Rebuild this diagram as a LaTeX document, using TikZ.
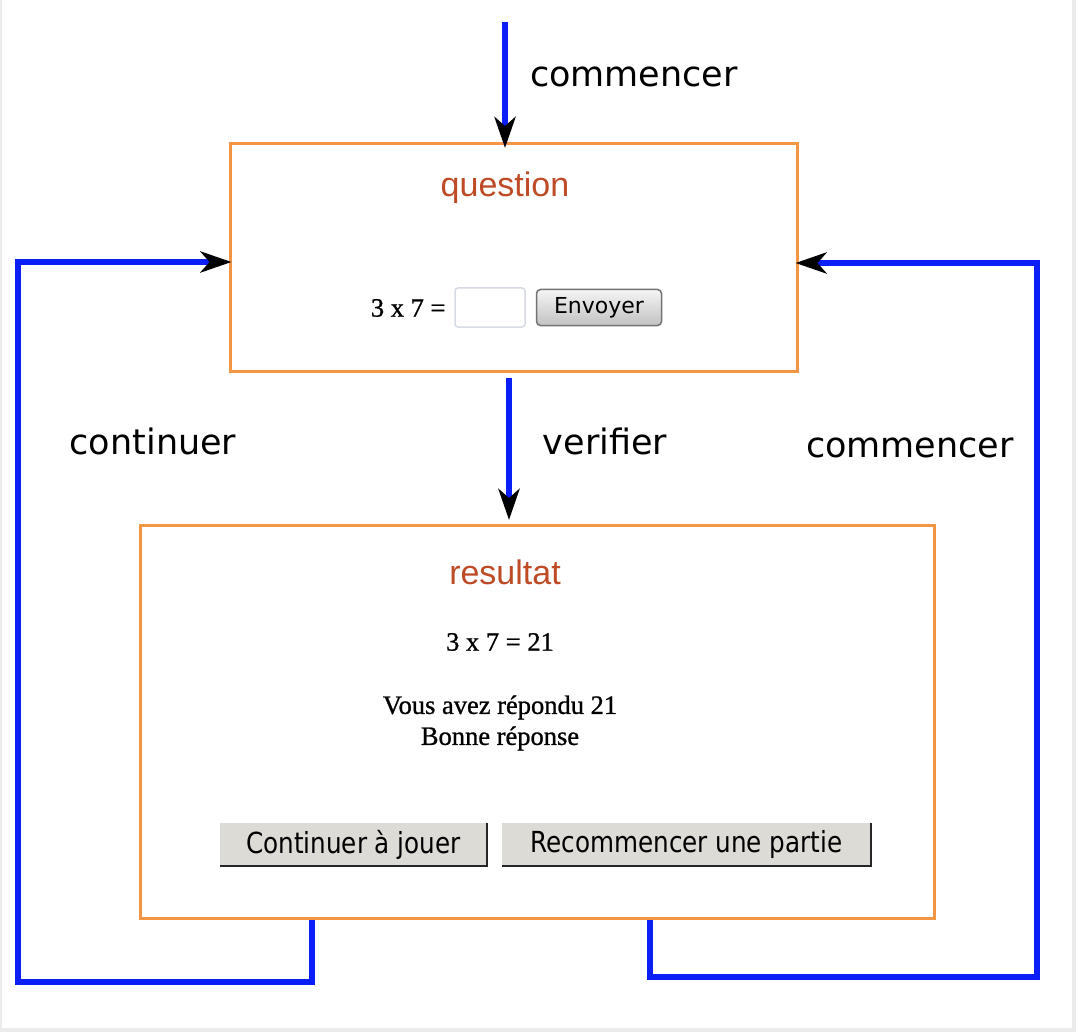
\documentclass[tikz,border=0pt]{standalone}
\usepackage{fontspec}
\setmainfont{Liberation Serif}
\newfontfamily\pagefont[FakeBold=0.9]{Liberation Serif}
\newfontfamily\labelfont{DejaVu Sans}
\newfontfamily\titlefont{Liberation Sans}
\newfontfamily\buttonfont[FakeStretch=0.85]{DejaVu Sans}
\usetikzlibrary{shapes, arrows, arrows.meta, positioning}

\definecolor{boxorange}{HTML}{F29646}
\definecolor{titlered}{HTML}{BE4B26}
\definecolor{flowblue}{HTML}{0A1EF8}
\definecolor{buttongray}{HTML}{DDDBD6}
\definecolor{fieldline}{HTML}{D6DAE2}
\definecolor{pageedge}{HTML}{EBEBEB}

\begin{document}
\begin{tikzpicture}[x=1pt, y=-1pt]
% Node styles
\tikzstyle{frame} = [rectangle, draw=boxorange, line width=3pt, fill=white]
\tikzstyle{title} = [text=titlered, font=\titlefont\fontsize{34}{39}\selectfont]
\tikzstyle{label} = [text=black, font=\labelfont\fontsize{35}{41}\selectfont]
\tikzstyle{body} = [text=black, font=\pagefont\fontsize{26.5}{31}\selectfont, align=center]
\tikzstyle{field} = [rectangle, rounded corners=3pt, draw=fieldline, line width=1.5pt, fill=white, minimum width=70, minimum height=39]
\tikzstyle{send} = [rectangle, rounded corners=4pt, draw=black!55, line width=1.5pt, top color=black!4, bottom color=black!24, minimum width=125, minimum height=36, font=\labelfont\fontsize{22}{26}\selectfont]
\tikzstyle{choice} = [rectangle, fill=buttongray, minimum height=43, inner sep=0pt, font=\buttonfont\fontsize{29}{34}\selectfont]
\tikzstyle{shadow} = [line width=2.5pt, black!85]
\tikzstyle{flow} = [line width=6pt, draw=flowblue, -{Stealth[length=31pt, width=21pt, inset=9pt, black]}]

\useasboundingbox (0,0) rectangle (1076,1032);
\fill[pageedge] (0,0) rectangle (2,1032);
\fill[pageedge] (1072,0) rectangle (1076,1032);
\fill[pageedge] (0,1028) rectangle (1076,1032);

% Nodes
\node [frame, minimum width=567, minimum height=227] (question) at (513.5,257.5) {};
\node [frame, minimum width=794, minimum height=393] (resultat) at (537,721.5) {};

\node [title] (qtitle) at (505,188) {question};
\node [body, anchor=east] (calc) at (449,308) {3 x 7 =};
\node [field] (answer) at (490,307.5) {};
\node [send, right=10 of answer] (envoyer) {Envoyer};

\node [title] (rtitle) at (505,572) {resultat};
\node [body] (product) at (500,642) {3 x 7 = 21};
\node [body] (reply) at (500,723) {Vous avez répondu 21\\Bonne réponse};
\node [choice, minimum width=267] (cont) at (353.5,844.5) {Continuer à jouer};
\node [choice, minimum width=369] (recom) at (686.5,844.5) {Recommencer une partie};
\draw [shadow] (cont.north east) -- (cont.south east) -- (cont.south west);
\draw [shadow] (recom.north east) -- (recom.south east) -- (recom.south west);

\node [label] (lstart) at (634,77) {commencer};
\node [label] (lcheck) at (605,441) {verifier};
\node [label] (lcont) at (153,441) {continuer};
\node [label] (lrestart) at (910,448) {commencer};

\coordinate (start) at (505,22);
\coordinate (lfoot) at (312,982);
\coordinate (lcorner) at (18,982);
\coordinate (rfoot) at (650,977);
\coordinate (rcorner) at (1037,977);

% Arrows
\draw [flow] (start) -- ([yshift=-5.5pt]start |- question.north);
\draw [flow] ([xshift=4pt, yshift=-5pt]question.south -| start) -- ([xshift=4pt, yshift=3.5pt]resultat.north -| start);
\draw [flow] (resultat.south -| lfoot) -- (lfoot) -- (lcorner) |- ([xshift=3pt, yshift=-4.5pt]question.west);
\draw [flow] (resultat.south -| rfoot) -- (rfoot) -- (rcorner) |- ([xshift=-3pt, yshift=-5.5pt]question.east);
\end{tikzpicture}
\end{document}
